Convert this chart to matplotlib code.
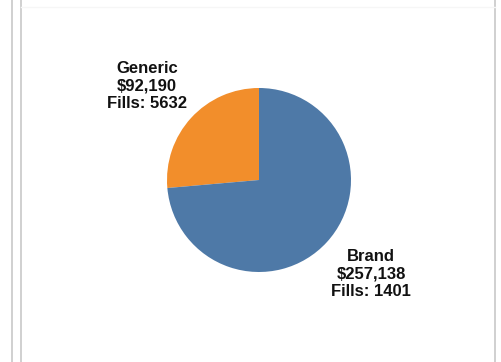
import matplotlib
matplotlib.use("Agg")
import matplotlib.pyplot as plt
from matplotlib.lines import Line2D

# data
categories = ["Generic", "Brand"]
costs = [92190, 257138]
fills = [5632, 1401]
colors = ["#f28e2b", "#4e79a7"]

W, H = 501, 362
fig = plt.figure(figsize=(W / 100, H / 100), dpi=100)
fig.patch.set_facecolor("white")

# pie centred at (259, 180) px, radius 92 px
cx, cy, r = 259, 180, 92
ax = fig.add_axes([(cx - r) / W, (H - cy - r) / H, 2 * r / W, 2 * r / H])
ax.pie(costs, colors=colors, startangle=90, counterclock=True,
       wedgeprops=dict(linewidth=0))
ax.set_xlim(-1, 1)
ax.set_ylim(-1, 1)
ax.set_aspect("equal")
ax.axis("off")

label_pos = {"Generic": (-1.22, 1.02), "Brand": (1.22, -1.02)}
for name, cost, n in zip(categories, costs, fills):
    x, y = label_pos[name]
    ax.text(x, y, f"{name}\n${cost:,}\nFills: {n}", ha="center", va="center",
            fontsize=12, fontweight="bold", family="Liberation Sans",
            color="#111111", linespacing=1.2, clip_on=False)

# panel frame lines
for xp in (12, 21, 495):
    fig.add_artist(Line2D([xp / W, xp / W], [0, 1], color="#c8c8c8", lw=1.2))
fig.add_artist(Line2D([21 / W, 495 / W], [1 - 7 / H, 1 - 7 / H], color="#f6f6f6", lw=1))

fig.savefig("out.png", dpi=100)
